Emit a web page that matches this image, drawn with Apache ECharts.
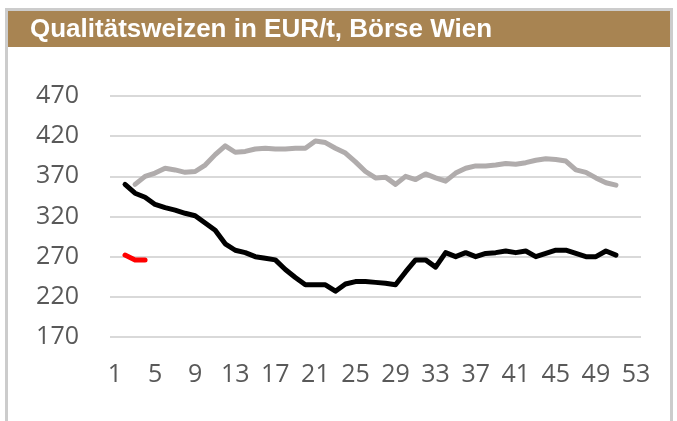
<!DOCTYPE html>
<html>
<head>
<meta charset="utf-8">
<script src="https://cdn.jsdelivr.net/npm/echarts@6/dist/echarts.min.js"></script>
<style>
html,body{margin:0;padding:0;background:#fff;}
#c{width:677px;height:421px;}
</style>
</head>
<body>
<div id="c"></div>
<script>
// Weeks 1..53
var weeks = [];
for (var i = 1; i <= 53; i++) weeks.push(String(i));

var yTicks = [170, 220, 270, 320, 370, 420, 470];

// Gray series (upper line)
var grayValues = [null, null, 360, 370, 374, 380, 378, 375, 376, 384,
  397, 408, 400, 401, 404, 405, 404, 404, 405, 405,
  414, 412, 405, 399, 388, 376, 368, 369, 360, 370,
  366, 373, 368, 364, 374, 380, 383, 383, 384, 386,
  385, 387, 390, 392, 391, 389, 378, 375, 368, 362,
  359, null, null];

// Black series
var blackValues = [null, 360, 349, 344, 335, 331, 328, 324, 321, 312,
  303, 286, 278, 275, 270, 268, 266, 254, 244, 235,
  235, 235, 227, 236, 239, 239, 238, 237, 235, 251,
  266, 266, 257, 275, 270, 275, 270, 274, 275, 277,
  275, 277, 270, 274, 278, 278, 274, 270, 270, 277,
  272, null, null];

// Red series (current)
var redValues = [null, 272, 266, 266];

var chart = echarts.init(document.getElementById('c'), null, {renderer: 'canvas'});
function line(name, data, color) {
  return {
    name: name, type: 'line', data: data, showSymbol: false, symbol: 'none',
    connectNulls: false, smooth: false,
    lineStyle: {color: color, width: 5, cap: 'round', join: 'round'},
    emphasis: {disabled: true}, animation: false
  };
}
chart.setOption({
  animation: false,
  backgroundColor: '#ffffff',
  graphic: [
    {type: 'rect', shape: {x: 6.5, y: 9.5, width: 665, height: 430}, style: {fill: '#ffffff', stroke: '#cccccc', lineWidth: 3}, z: -10},
    {type: 'rect', shape: {x: 8, y: 11, width: 662, height: 36}, style: {fill: '#A88452'}, z: -9}
  ],
  title: {
    text: 'Qualitätsweizen in EUR/t, Börse Wien',
    left: 25, top: 12,
    textStyle: {color: '#ffffff', fontFamily: 'Liberation Sans, Arial, sans-serif', fontWeight: 'bold', fontSize: 26}
  },
  grid: {left: 110, right: 36, top: 96, bottom: 84, containLabel: false},
  xAxis: {
    type: 'category', data: weeks, boundaryGap: true,
    axisLine: {show: false}, axisTick: {show: false},
    splitLine: {show: false},
    axisLabel: {interval: 3, color: '#595959', fontFamily: 'Open Sans', fontSize: 25, margin: 25}
  },
  yAxis: {
    type: 'value', min: 170, max: 470, interval: 50,
    axisLine: {show: false},
    axisTick: {show: false, customValues: yTicks},
    splitLine: {show: true, lineStyle: {color: '#d9d9d9', width: 2}},
    axisLabel: {customValues: yTicks, color: '#595959', fontFamily: 'Open Sans', fontSize: 25, margin: 31}
  },
  series: [
    line('grau', grayValues, '#B0ACAC'),
    line('schwarz', blackValues, '#000000'),
    line('rot', redValues, '#FF0000')
  ]
});
</script>
</body>
</html>
